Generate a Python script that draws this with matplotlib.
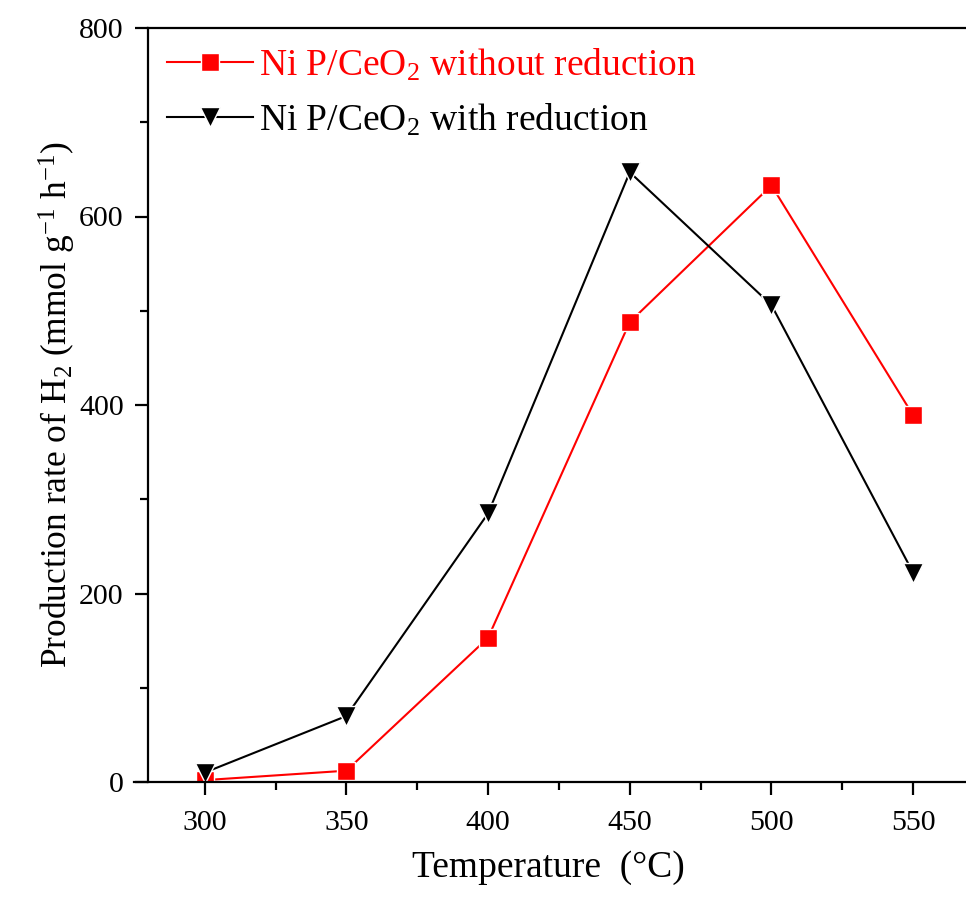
import matplotlib.pyplot as plt
from matplotlib.ticker import MultipleLocator

# data
temperature = [300, 350, 400, 450, 500, 550]
rate_without_reduction = [2, 12, 153, 488, 633, 389]
rate_with_reduction = [10, 70, 285, 647, 506, 222]

x_ticks = [300, 350, 400, 450, 500, 550]
y_ticks = [0, 200, 400, 600, 800]

label_without = 'Ni P/CeO$_2$ without reduction'
label_with = 'Ni P/CeO$_2$ with reduction'

plt.rcParams['font.family'] = ['Liberation Serif', 'DejaVu Serif']
plt.rcParams['mathtext.fontset'] = 'custom'
plt.rcParams['mathtext.rm'] = 'Liberation Serif'
plt.rcParams['mathtext.it'] = 'Liberation Serif:italic'

W, H = 966, 898
fig = plt.figure(figsize=(W / 100, H / 100), dpi=100)
# axes box in pixels: left spine x=148, top y=28, bottom y=782, right edge runs past the figure
left, top, bottom, right = 148, 28, 782, 984
ax = fig.add_axes([left / W, 1 - bottom / H, (right - left) / W, (bottom - top) / H])

ax.plot(temperature, rate_without_reduction, color='#ff0000', lw=1.5,
        marker='s', ms=12.5, mec='white', mew=1.0, label=label_without)
ax.plot(temperature, rate_with_reduction, color='black', lw=1.5,
        marker='v', ms=15, mec='white', mew=1.0, label=label_with)

ax.set_xlim(280, 575)
ax.set_ylim(0, 800)
ax.set_xticks(x_ticks)
ax.set_xticklabels([str(v) for v in x_ticks], fontsize=21.5)
ax.set_yticks(y_ticks)
ax.set_yticklabels([str(v) for v in y_ticks], fontsize=21.5)
ax.xaxis.set_minor_locator(MultipleLocator(25))
ax.yaxis.set_minor_locator(MultipleLocator(100))

for side in ['left', 'bottom', 'top', 'right']:
    ax.spines[side].set_linewidth(1.6)
# bottom axis line runs a little past the left axis, as in the original
ax.spines['bottom'].set_bounds(275, 575)

ax.tick_params(which='major', direction='out', length=9.5, width=1.6, top=False, right=False)
ax.tick_params(which='minor', direction='out', length=5.5, width=1.6, top=False, right=False)
ax.tick_params(axis='x', pad=11)
ax.tick_params(axis='y', pad=8)

ax.set_xlabel('Temperature  (\u00b0C)', fontsize=27)
ax.xaxis.set_label_coords((548 - left) / (right - left), -(868 - bottom) / (bottom - top), transform=ax.transAxes)
ax.xaxis.label.set_va('center')
ax.set_ylabel('Production rate of H$_2$ (mmol g$^{-1}$ h$^{-1}$)', fontsize=25.5, labelpad=1)

leg = ax.legend(loc='upper left', bbox_to_anchor=(0.0, 1.0), frameon=False,
                fontsize=27, handlelength=2.3, handletextpad=0.15,
                labelspacing=0.5, borderaxespad=0.1)
leg.get_texts()[0].set_color('#ff0000')
leg.get_texts()[1].set_color('black')

plt.savefig('out.png', dpi=100)
plt.close()
